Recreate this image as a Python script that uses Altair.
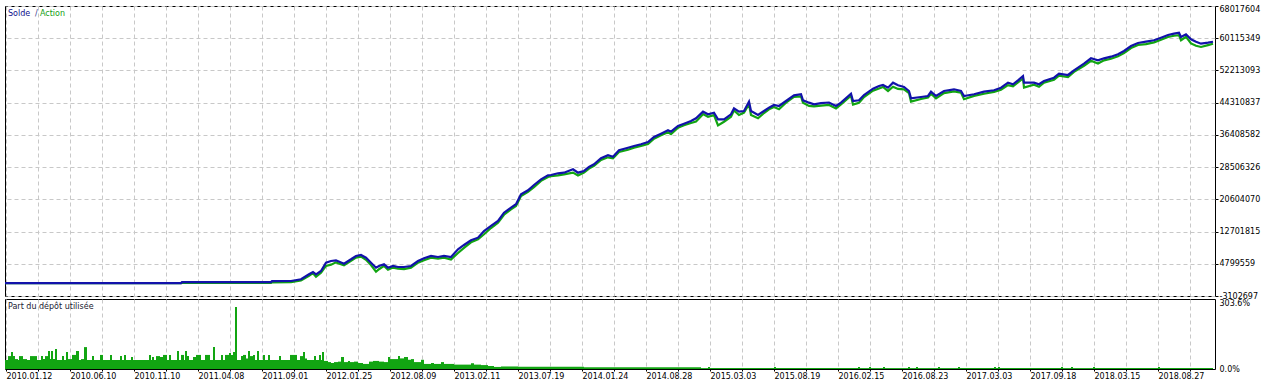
import json
import altair as alt
import pandas as pd

# ---- equity curve (deal index, balance in millions, equity gap in millions) ----
deal = [4, 180, 181, 270, 271, 290, 300, 308, 312, 315,
        320, 325, 330, 335, 343, 350, 355, 360, 365, 370,
        375, 378, 383, 387, 392, 397, 403, 410, 417, 423,
        430, 437, 443, 450, 457, 463, 470, 477, 483, 490,
        497, 503, 510, 515, 520, 527, 533, 540, 547, 550,
        557, 563, 572, 577, 583, 588, 593, 600, 607, 612,
        618, 627, 633, 640, 647, 653, 660, 667, 670, 677,
        683, 690, 695, 702, 707, 713, 717, 723, 730, 733,
        738, 743, 748, 750, 757, 763, 768, 773, 778, 785,
        793, 800, 802, 808, 813, 820, 828, 835, 840, 850,
        852, 858, 863, 872, 878, 882, 887, 892, 897, 903,
        908, 910, 920, 927, 930, 935, 943, 953, 960, 963,
        973, 983, 993, 1000, 1007, 1012, 1017, 1022, 1023, 1033,
        1038, 1043, 1053, 1058, 1067, 1073, 1083, 1090, 1097, 1103,
        1110, 1117, 1123, 1130, 1137, 1145, 1153, 1160, 1167, 1173,
        1178, 1180, 1185, 1190, 1195, 1200, 1207, 1212]

balance_m = [0.05, 0.05, 0.3, 0.3, 0.55, 0.58, 1.0, 2.22, 2.79, 2.22,
             3.03, 5.07, 5.48, 5.65, 4.82, 5.9, 6.71, 6.96, 6.29, 5.07,
             3.84, 4.26, 4.67, 3.84, 4.26, 4.01, 4.01, 4.26, 5.48, 6.15,
             6.71, 6.46, 6.71, 6.46, 8.35, 9.41, 10.56, 11.2, 12.84, 14.07,
             15.29, 17.33, 18.56, 19.39, 21.84, 22.82, 24.12, 25.52, 26.5, 26.57,
             26.99, 27.14, 27.97, 27.14, 27.56, 28.54, 29.2, 30.67, 31.41, 31.06,
             32.63, 33.27, 33.69, 34.1, 34.67, 35.89, 36.7, 37.54, 37.19, 38.59,
             39.16, 39.82, 40.48, 42.1, 41.46, 41.85, 40.23, 40.23, 41.46, 42.93,
             42.1, 42.27, 44.55, 42.27, 41.29, 42.27, 43.08, 43.74, 43.5, 44.72,
             46.12, 46.37, 44.89, 44.31, 43.91, 44.18, 44.35, 43.5, 44.31, 46.51,
             44.72, 44.89, 46.19, 47.74, 48.4, 48.65, 47.98, 49.21, 48.57, 48.16,
             47.17, 45.38, 45.7, 45.95, 47.0, 45.95, 47.17, 47.59, 47.17, 45.95,
             46.37, 47.0, 47.35, 47.98, 49.21, 48.82, 49.8, 50.85, 49.21, 49.21,
             48.82, 49.63, 50.44, 51.42, 51.1, 52.25, 53.87, 55.19, 54.7, 55.19,
             55.59, 56.17, 56.98, 58.21, 58.95, 59.26, 59.61, 60.25, 60.91, 61.23,
             61.47, 60.42, 61.08, 59.85, 59.26, 58.77, 59.02, 59.26]

equity_gap_m = [0.0, 0.0, 0.2, 0.2, 0.3, 0.3, 0.3, 0.4, 0.3, 0.6,
                0.4, 0.8, 0.9, 0.5, 0.4, 0.4, 0.4, 0.4, 0.5, 0.6,
                1.0, 0.8, 0.4, 0.5, 0.4, 0.4, 0.5, 0.4, 0.4, 0.5,
                0.4, 0.4, 0.4, 0.6, 0.9, 0.7, 0.5, 0.4, 0.8, 0.5,
                0.4, 0.5, 0.4, 0.4, 0.4, 0.4, 0.5, 0.4, 0.4, 0.3,
                0.5, 0.4, 0.8, 0.7, 0.4, 0.4, 0.4, 0.4, 0.5, 0.4,
                0.4, 0.5, 0.4, 0.4, 0.5, 0.4, 0.4, 0.5, 0.6, 0.4,
                0.4, 0.5, 0.8, 0.6, 0.6, 0.6, 1.5, 0.6, 0.6, 0.5,
                0.8, 0.4, 0.6, 1.0, 0.8, 0.5, 0.4, 0.5, 0.8, 0.4,
                0.4, 0.5, 0.6, 0.8, 0.5, 0.6, 0.6, 0.6, 0.4, 0.5,
                0.9, 0.6, 0.5, 0.5, 0.6, 0.5, 0.8, 1.0, 0.9, 0.6,
                0.5, 0.8, 0.5, 0.4, 0.5, 0.6, 0.5, 0.5, 0.4, 0.8,
                0.4, 0.5, 0.4, 0.5, 0.6, 0.5, 0.5, 0.6, 1.2, 0.5,
                0.6, 0.4, 0.5, 0.5, 0.5, 0.4, 0.5, 0.6, 0.8, 0.5,
                0.5, 0.5, 0.5, 0.5, 0.5, 0.6, 0.5, 0.5, 0.5, 0.5,
                0.6, 0.8, 0.6, 1.0, 1.0, 0.8, 0.6, 0.5]

# ---- deposit load (bar segments: first deal of segment, load %) ----
bar_start = [4, 7, 10, 12, 14, 17, 18, 22, 26, 29, 36, 40, 42, 44, 47, 49, 50, 52, 54, 56,
             61, 63, 65, 67, 71, 75, 78, 80, 83, 86, 91, 93, 99, 102, 109, 111, 119, 121, 123, 125,
             130, 132, 148, 150, 151, 153, 155, 159, 162, 166, 168, 170, 176, 178, 180, 183, 184, 186, 188, 192,
             195, 200, 204, 209, 212, 214, 220, 222, 224, 228, 230, 232, 234, 236, 240, 242, 245, 247, 249, 252,
             254, 256, 258, 262, 264, 267, 269, 278, 280, 289, 296, 299, 302, 304, 306, 313, 315, 318, 320, 321,
             323, 327, 330, 333, 337, 340, 343, 347, 349, 353, 357, 362, 368, 372, 378, 383, 387, 389, 397, 399,
             403, 407, 410, 413, 420, 423, 430, 433, 440, 443, 453, 470, 473, 480, 487, 493, 500, 517, 583, 700,
             707, 709, 773, 775, 857, 859, 868, 870, 882, 884, 907, 909, 915, 917, 937, 939, 957, 959, 993, 995,
             997, 999, 1060, 1062, 1070, 1072, 1092, 1094, 1157, 1159]
load_pct = [39, 56, 74, 56, 43, 39, 56, 43, 39, 56, 39, 56, 43, 56, 78, 43, 78, 43, 87, 39,
            56, 39, 74, 43, 61, 78, 39, 43, 95, 39, 56, 39, 61, 39, 61, 39, 56, 39, 61, 39,
            52, 39, 61, 39, 52, 39, 56, 52, 61, 39, 61, 39, 78, 39, 61, 39, 78, 56, 39, 52,
            61, 39, 61, 39, 95, 39, 61, 39, 61, 69, 61, 74, 269, 39, 56, 61, 46, 78, 56, 61,
            39, 78, 39, 61, 39, 61, 39, 56, 39, 61, 39, 56, 74, 46, 39, 56, 39, 61, 39, 74,
            35, 30, 26, 30, 32, 52, 30, 35, 30, 32, 26, 22, 32, 35, 32, 30, 52, 43, 56, 46,
            52, 40, 43, 30, 40, 22, 26, 22, 30, 22, 19, 25, 19, 17, 13, 9, 11, 10, 8, 4,
            9, 4, 9, 4, 9, 4, 9, 4, 9, 4, 9, 4, 9, 4, 9, 4, 9, 4, 9, 4,
            9, 4, 9, 4, 9, 4, 9, 4, 9, 4]
bar_last_end = 1212

date_labels = ["2010.01.12", "2010.06.10", "2010.11.10", "2011.04.08", "2011.09.01",
               "2012.01.25", "2012.08.09", "2013.02.11", "2013.07.19", "2014.01.24",
               "2014.08.28", "2015.03.03", "2015.08.19", "2016.02.15", "2016.08.23",
               "2017.03.03", "2017.09.18", "2018.03.15", "2018.08.27"]

y_ticks = [-3102697, 4799559, 12701815, 20604070, 28506326,
           36408582, 44310837, 52213093, 60115349, 68017604]
load_ticks = [0, 303.6]

# ---- styling ----
FONT = "DejaVu Sans"
FS = 8
BLUE = "#1212aa"
GREEN = "#12a512"
GRID = "#c8c8c8"
X_DOMAIN = [4, 1214]
grid_x = list(range(5, 1214, 32))

curve = pd.DataFrame({
    "deal": deal,
    "balance": [b * 1e6 for b in balance_m],
    "equity": [(b - g) * 1e6 for b, g in zip(balance_m, equity_gap_m)],
})
bars = pd.DataFrame({
    "start": bar_start,
    "end": bar_start[1:] + [bar_last_end],
    "load": load_pct,
    "zero": [0] * len(bar_start),
})
one = pd.DataFrame({"k": [0]})

x_scale = alt.Scale(domain=X_DOMAIN, nice=False, zero=False)
x_top_axis = alt.Axis(values=grid_x, labels=False, ticks=False, domain=False,
                      grid=True, gridDash=[4, 3], gridColor=GRID, title=None)
y_scale = alt.Scale(domain=[y_ticks[0], y_ticks[-1]], nice=False, zero=False)
y_axis = alt.Axis(orient="right", values=y_ticks, labelExpr="datum.value + ''", title=None, domain=False,
                  grid=True, gridDash=[4, 3], gridColor=GRID, tickColor="black", tickSize=3,
                  labelPadding=1, labelFont=FONT, labelFontSize=FS, labelColor="black",
                  labelOverlap=False, labelBound=False,
                  labelBaseline={"condition": {"test": "datum.value > 68000000", "value": "top"}, "value": "middle"},
                  labelOffset={"condition": {"test": "datum.value > 68000000", "value": -1}, "value": 0})

equity_line = alt.Chart(curve).mark_line(color=GREEN, strokeWidth=2.2, interpolate="linear", clip=True).encode(
    x=alt.X("deal:Q", scale=x_scale, axis=x_top_axis),
    y=alt.Y("equity:Q", scale=y_scale, axis=y_axis))
balance_line = alt.Chart(curve).mark_line(color=BLUE, strokeWidth=2.2, interpolate="linear", clip=True).encode(
    x=alt.X("deal:Q", scale=x_scale, axis=x_top_axis),
    y=alt.Y("balance:Q", scale=y_scale, axis=y_axis))

t1 = alt.Chart(one).mark_text(text="Solde", align="left", baseline="middle", font=FONT,
                              fontSize=FS, color="#10108c").encode(x=alt.value(3), y=alt.value(8))
t2 = alt.Chart(one).mark_text(text="/", align="left", baseline="middle", font=FONT,
                              fontSize=FS, color="#3a3a8a").encode(x=alt.value(30), y=alt.value(8))
t3 = alt.Chart(one).mark_text(text="Action", align="left", baseline="middle", font=FONT,
                              fontSize=FS, color="#14a014").encode(x=alt.value(35), y=alt.value(8))

top = alt.layer(equity_line, balance_line, t1, t2, t3).properties(width=1210, height=290)

dates_js = json.dumps(date_labels)
label_expr = f"((datum.value - 5) % 64 == 0) ? {dates_js}[(datum.value - 5) / 64] : ''"

x_bot = alt.X("start:Q", scale=x_scale,
              axis=alt.Axis(values=grid_x, labelExpr=label_expr, labelAlign="left",
                            labelBaseline="top", labelPadding=1, labelFont=FONT, labelFontSize=FS,
                            labelColor="black", labelOverlap=False, labelBound=False, labelFlush=False,
                            ticks=True, tickSize=2, tickColor="black", domain=False,
                            grid=True, gridDash=[4, 3], gridColor=GRID, title=None))
y_bot = alt.Y("load:Q", scale=alt.Scale(domain=[0, 303.6], nice=False, zero=True),
              axis=alt.Axis(orient="right", values=load_ticks, labelExpr="format(datum.value, '.1f') + '%'",
                            title=None, domain=False, grid=False, ticks=False, labelPadding=4,
                            labelFont=FONT, labelFontSize=FS, labelColor="black",
                            labelOverlap=False, labelBound=False, labelBaseline="middle",
                            labelOffset={"condition": {"test": "datum.value > 300", "value": 4}, "value": 0}))

load_bars = alt.Chart(bars).mark_rect(color=GREEN, clip=True).encode(
    x=x_bot, x2="end:Q", y=y_bot, y2="zero:Q")
t4 = alt.Chart(one).mark_text(text="Part du dépôt utilisée", align="left", baseline="middle",
                              font=FONT, fontSize=FS, color="#202030").encode(
    x=alt.value(3), y=alt.value(8))

bottom = alt.layer(load_bars, t4).properties(width=1210, height=70)

chart = alt.vconcat(top, bottom, spacing=3, bounds="flush").properties(
    padding={"left": 4, "top": 4, "right": 0, "bottom": 0},
    background="white",
).configure_view(stroke="black", strokeWidth=1, fill="white").configure_axis(labelOverlap=False)

chart.save("out.html", embed_options={"renderer": "svg", "actions": False})
